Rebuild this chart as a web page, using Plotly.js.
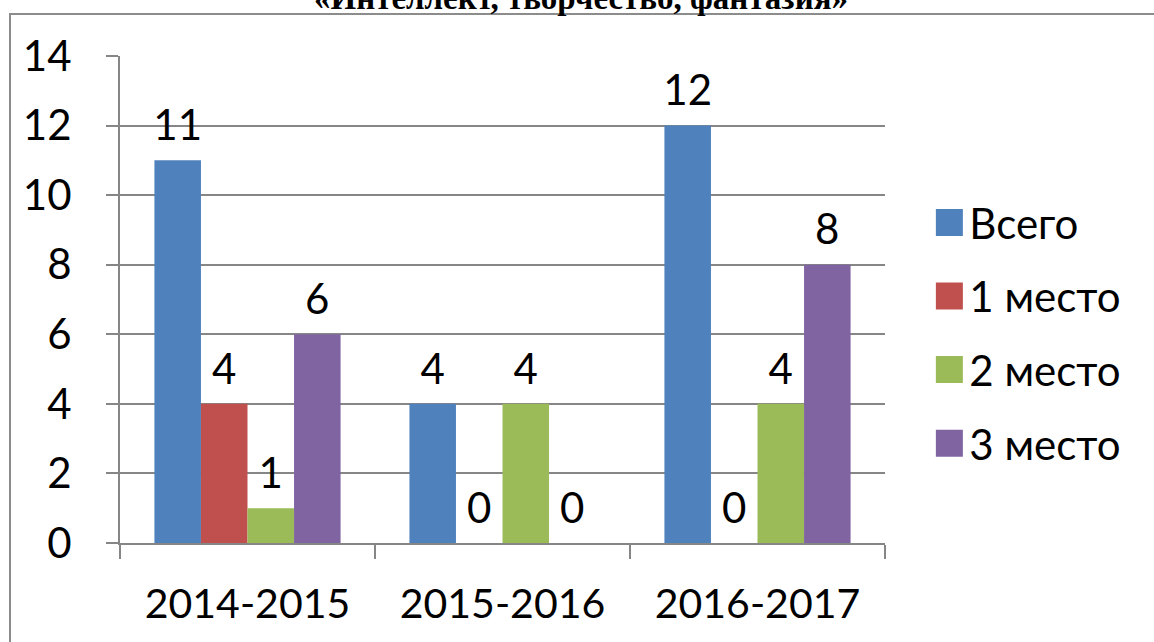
<!DOCTYPE html>
<html>
<head>
<meta charset="utf-8">
<script src="https://cdn.plot.ly/plotly-3.0.1.min.js"></script>
<style>html,body{margin:0;padding:0;background:#fff;}#chart{width:1154px;height:642px;}</style>
</head>
<body>
<div id="chart"></div>
<script>
const categories = ["2014-2015", "2015-2016", "2016-2017"];
const seriesNames = ["Всего", "1 место", "2 место", "3 место"];
const vsego = [11, 4, 12];
const mesto1 = [4, 0, 0];
const mesto2 = [1, 4, 4];
const mesto3 = [6, 0, 8];
const yTicks = [0, 2, 4, 6, 8, 10, 12, 14];
const titleText = "«Интеллект, творчество, фантазия»";

const colors = ["#4F81BD", "#C0504D", "#9BBB59", "#8064A2"];
const seriesValues = [vsego, mesto1, mesto2, mesto3];
const font = "Lato, 'Open Sans', sans-serif";

const barTraces = seriesValues.map((vals, i) => ({
  type: "bar",
  name: seriesNames[i],
  x: categories,
  y: vals,
  marker: {color: colors[i]},
  legendgroup: "g" + i,
  offsetgroup: "s" + i,
  hoverinfo: "none"
}));

const labelTraces = seriesValues.map((vals, i) => ({
  type: "scatter",
  mode: "markers+text",
  x: categories,
  y: vals,
  text: vals.map(String),
  textposition: "top center",
  textfont: {family: font, size: 42, color: "#000"},
  marker: {size: 14, opacity: 0, color: colors[i]},
  offsetgroup: "s" + i,
  cliponaxis: false,
  showlegend: false,
  hoverinfo: "none"
}));

const layout = {
  width: 1154, height: 642,
  margin: {l: 120, r: 269, t: 56, b: 99},
  paper_bgcolor: "#fff", plot_bgcolor: "#fff",
  barmode: "group",
  bargap: 0.27, bargroupgap: 0,
  scattermode: "group", scattergap: 0.27,
  font: {family: font, size: 42, color: "#000"},
  xaxis: {
    type: "category",
    tickson: "boundaries",
    ticks: "outside", ticklen: 14, tickwidth: 2, tickcolor: "#868686",
    showline: true, linecolor: "#868686", linewidth: 2,
    showgrid: false,
    tickfont: {family: font, size: 41, color: "#000"},
    ticklabelstandoff: 24
  },
  yaxis: {
    range: [0, 14],
    tickvals: yTicks,
    ticktext: yTicks.map(String),
    ticks: "outside", ticklen: 12, tickwidth: 2, tickcolor: "#868686",
    showline: true, linecolor: "#868686", linewidth: 2,
    showgrid: true, gridcolor: "#868686", gridwidth: 2,
    zeroline: false,
    tickfont: {family: font, size: 42, color: "#000"},
    ticklabelstandoff: 26
  },
  showlegend: true,
  legend: {
    x: 1.058, xanchor: "left", y: 0.431, yanchor: "middle",
    font: {family: font, size: 42, color: "#000"},
    traceorder: "grouped", tracegroupgap: 16,
    bgcolor: "rgba(0,0,0,0)"
  },
  shapes: [{
    type: "rect", xref: "paper", yref: "paper",
    x0: -0.1438, x1: 1.5, y0: -0.5, y1: 1.0862,
    line: {color: "#8c8c8c", width: 2}, fillcolor: "rgba(0,0,0,0)", layer: "below"
  }],
  annotations: [{
    text: "<b>" + titleText + "</b>",
    xref: "paper", yref: "paper", x: 0.603, y: 1.078,
    xanchor: "center", yanchor: "bottom", showarrow: false,
    font: {family: "'Liberation Serif', 'Times New Roman', serif", size: 33, color: "#000"}
  }]
};

Plotly.newPlot("chart", barTraces.concat(labelTraces), layout, {staticPlot: true}).then(gd => {
  gd.querySelectorAll(".legend .legendpoints path").forEach(p => {
    p.setAttribute("d", "M13.5,13.5H-13.5V-13.5H13.5Z");
    p.style.strokeWidth = "0";
  });
});
</script>
</body>
</html>
